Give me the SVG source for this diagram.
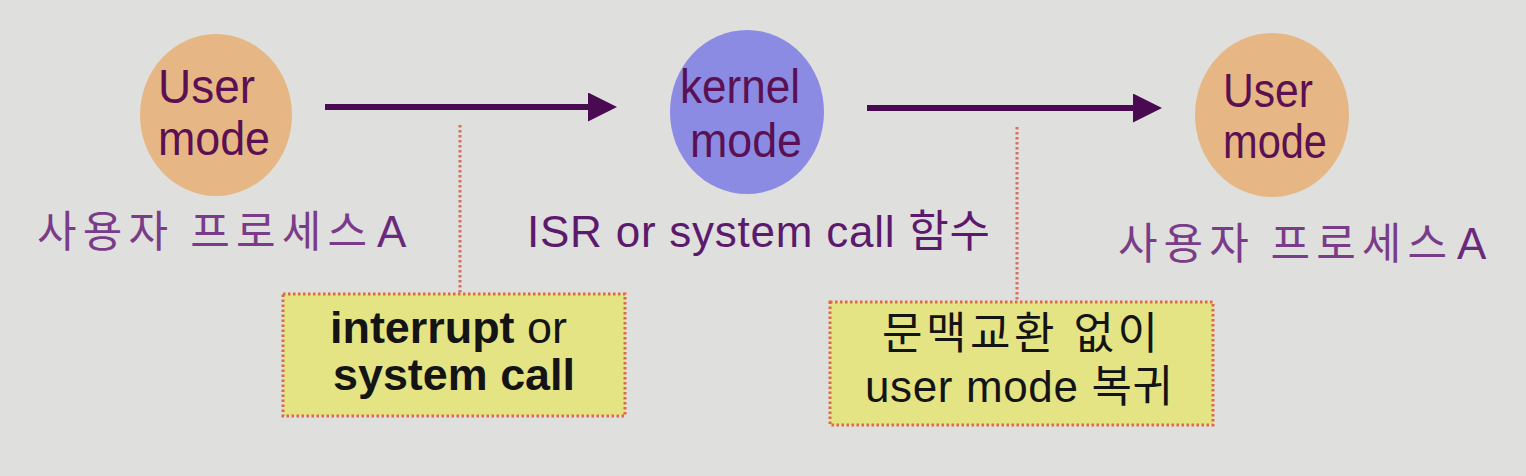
<svg xmlns="http://www.w3.org/2000/svg" width="1526" height="476" viewBox="0 0 1526 476">
<defs>
<marker id="ah" markerUnits="userSpaceOnUse" markerWidth="30" markerHeight="30" refX="2" refY="14.5" orient="auto">
<path d="M0,0 L29,14.5 L0,29 Z" fill="#4a0a52"/>
</marker>
</defs>
<style>
.bg{fill:#dfdfdd}
.user{fill:#e6b784}
.kern{fill:#8b8be4}
.ct{font-family:"Liberation Sans",Arial,sans-serif;font-size:49px;fill:#5a1052}
.lbl{font-family:"Noto Sans CJK KR","Liberation Sans",sans-serif;font-size:43px;fill:#7a3c88}
.lat{font-family:"Liberation Sans",Arial,sans-serif;font-size:44px;fill:#6a2a7c}
.isr{font-family:"Liberation Sans","Noto Sans CJK KR",sans-serif;font-size:44px;fill:#5c1a6c}
.box{fill:#e4e484;stroke:#dc6a4a;stroke-width:3;stroke-dasharray:2.5 2.5}
.bt{font-family:"Liberation Sans","Noto Sans CJK KR",sans-serif;font-size:44px;fill:#141414}
.arr{stroke:#4a0a52;stroke-width:6;fill:none}
.dot{stroke:#d8705e;stroke-width:3;stroke-dasharray:2.5 2.5;fill:none}
</style>
<rect class="bg" x="0" y="0" width="1526" height="476"/>
<g id="connectors">
<line class="arr" x1="325" y1="107" x2="590" y2="107" marker-end="url(#ah)"/>
<line class="arr" x1="867" y1="108" x2="1135" y2="108" marker-end="url(#ah)"/>
<line class="dot" x1="460" y1="125" x2="460" y2="293"/>
<line class="dot" x1="1017" y1="127" x2="1017" y2="302"/>
</g>
<g id="user1">
<ellipse class="user" cx="216" cy="115" rx="76" ry="81"/>
<text class="ct" x="158" y="103" textLength="97" lengthAdjust="spacingAndGlyphs">User</text>
<text class="ct" x="158" y="155" textLength="112" lengthAdjust="spacingAndGlyphs">mode</text>
<text class="lbl" x="37" y="247" textLength="330" lengthAdjust="spacing">사용자 프로세스</text>
<text class="lat" x="377" y="247">A</text>
</g>
<g id="kernel">
<ellipse class="kern" cx="747" cy="112" rx="77" ry="82"/>
<text class="ct" x="680" y="103" textLength="120" lengthAdjust="spacingAndGlyphs">kernel</text>
<text class="ct" x="690" y="157" textLength="112" lengthAdjust="spacingAndGlyphs">mode</text>
<text class="isr" x="527" y="247" textLength="463" lengthAdjust="spacing">ISR or system call 함수</text>
</g>
<g id="user2">
<ellipse class="user" cx="1272" cy="115" rx="77" ry="82"/>
<text class="ct" x="1223" y="107" textLength="90" lengthAdjust="spacingAndGlyphs">User</text>
<text class="ct" x="1223" y="158" textLength="104" lengthAdjust="spacingAndGlyphs">mode</text>
<text class="lbl" x="1118" y="259" textLength="329" lengthAdjust="spacing">사용자 프로세스</text>
<text class="lat" x="1457" y="259">A</text>
</g>
<g id="note1">
<rect class="box" x="283" y="294" width="342" height="122"/>
<text class="bt" x="330" y="343" textLength="237" lengthAdjust="spacingAndGlyphs"><tspan font-weight="bold">interrupt</tspan> or</text>
<text class="bt" x="333" y="390" font-weight="bold" textLength="242" lengthAdjust="spacingAndGlyphs">system call</text>
</g>
<g id="note2">
<rect class="box" x="830" y="302" width="383" height="123"/>
<text class="bt" x="882" y="349" textLength="276" lengthAdjust="spacing">문맥교환 없이</text>
<text class="bt" x="865" y="402" textLength="308" lengthAdjust="spacing">user mode 복귀</text>
</g>
</svg>
